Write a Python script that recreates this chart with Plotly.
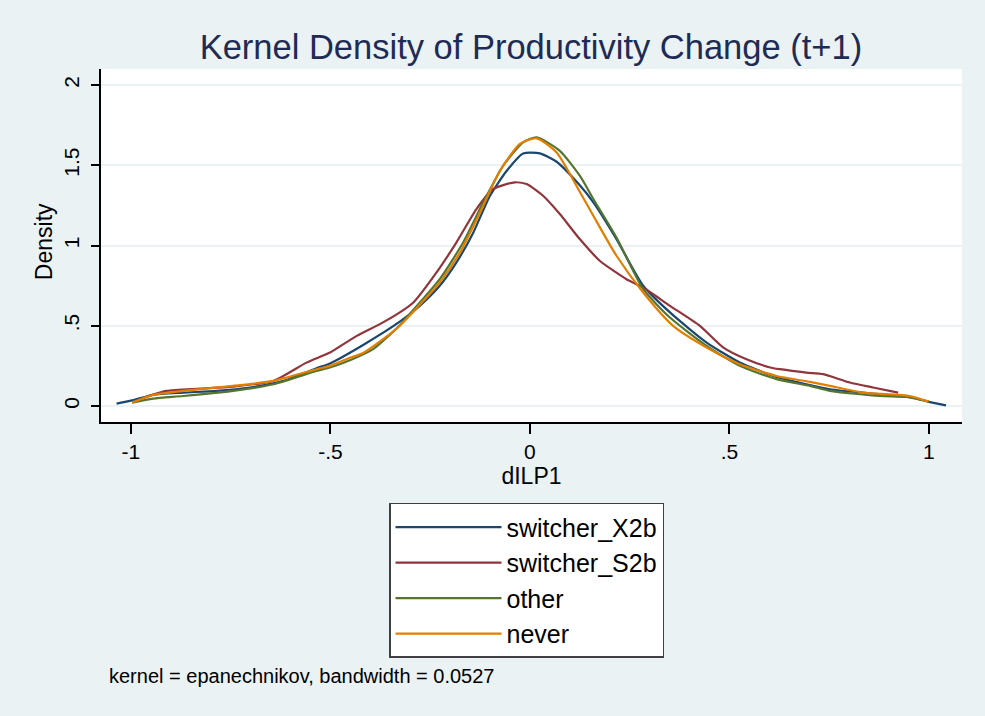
import plotly.graph_objects as go

# ---------------- data ----------------
series_names = ["switcher_X2b", "switcher_S2b", "other", "never"]

x2b_x = [-1.036, -0.994, -0.944, -0.869, -0.785, -0.702, -0.618, -0.535, -0.501, -0.418,
         -0.326, -0.276, -0.226, -0.184, -0.142, -0.100, -0.058, -0.017, 0.025, 0.067,
         0.125, 0.159, 0.217, 0.284, 0.351, 0.443, 0.526, 0.610, 0.702, 0.752,
         0.877, 0.960, 1.000, 1.043]
x2b_y = [0.015, 0.036, 0.070, 0.083, 0.094, 0.115, 0.156, 0.235, 0.265, 0.380,
         0.525, 0.624, 0.749, 0.895, 1.080, 1.310, 1.466, 1.574, 1.574, 1.522,
         1.375, 1.269, 1.040, 0.749, 0.583, 0.395, 0.271, 0.187, 0.130, 0.104,
         0.073, 0.052, 0.025, 0.004]

s2b_x = [-0.970, -0.911, -0.827, -0.744, -0.643, -0.560, -0.501, -0.434, -0.376, -0.326,
         -0.292, -0.234, -0.184, -0.134, -0.092, -0.038, -0.008, 0.033, 0.075, 0.125,
         0.175, 0.242, 0.284, 0.351, 0.426, 0.485, 0.543, 0.602, 0.627, 0.693,
         0.735, 0.802, 0.860, 0.923]
s2b_y = [0.050, 0.094, 0.108, 0.121, 0.156, 0.270, 0.333, 0.437, 0.510, 0.583,
         0.645, 0.832, 1.020, 1.227, 1.352, 1.394, 1.383, 1.310, 1.196, 1.040,
         0.905, 0.790, 0.738, 0.624, 0.499, 0.364, 0.291, 0.240, 0.229, 0.208,
         0.198, 0.146, 0.115, 0.083]

other_x = [-0.997, -0.944, -0.869, -0.744, -0.643, -0.535, -0.501, -0.451, -0.393, -0.326,
           -0.309, -0.226, -0.167, -0.117, -0.067, -0.017, 0.017, 0.075, 0.125, 0.159,
           0.217, 0.284, 0.351, 0.443, 0.526, 0.618, 0.702, 0.752, 0.877, 0.944,
           1.000]
other_y = [0.020, 0.046, 0.062, 0.094, 0.135, 0.218, 0.240, 0.285, 0.354, 0.503,
           0.551, 0.790, 1.020, 1.269, 1.497, 1.643, 1.674, 1.590, 1.435, 1.290,
           1.050, 0.728, 0.551, 0.374, 0.250, 0.167, 0.125, 0.094, 0.062, 0.056,
           0.027]

never_x = [-0.997, -0.944, -0.869, -0.744, -0.643, -0.535, -0.501, -0.451, -0.418, -0.368,
           -0.326, -0.226, -0.175, -0.125, -0.075, -0.025, 0.017, 0.067, 0.125, 0.159,
           0.217, 0.284, 0.359, 0.443, 0.526, 0.618, 0.702, 0.752, 0.835, 0.952,
           0.999]
never_y = [0.021, 0.069, 0.094, 0.125, 0.156, 0.229, 0.250, 0.300, 0.330, 0.416,
           0.500, 0.770, 0.957, 1.206, 1.466, 1.633, 1.668, 1.580, 1.335, 1.185,
           0.936, 0.707, 0.499, 0.364, 0.260, 0.187, 0.150, 0.125, 0.083, 0.062,
           0.027]

x_tickvals = [-1, -0.5, 0, 0.5, 1]
x_ticktext = ["-1", "-.5", "0", ".5", "1"]
y_tickvals = [0, 0.5, 1, 1.5, 2]
y_ticktext = ["0", ".5", "1", "1.5", "2"]

title_text = "Kernel Density of Productivity Change (t+1)"
x_title = "dILP1"
y_title = "Density"
note_text = "kernel = epanechnikov, bandwidth = 0.0527"

# ---------------- styling ----------------
colors = ["#1a476f", "#90353b", "#55752f", "#e37e00"]
BG = "#EAF2F3"
FONT = "Liberation Sans, Arial, Helvetica, sans-serif"

fig = go.Figure()
all_x = [x2b_x, s2b_x, other_x, never_x]
all_y = [x2b_y, s2b_y, other_y, never_y]
for i, (name, xs, ys) in enumerate(zip(series_names, all_x, all_y)):
    fig.add_trace(go.Scatter(
        x=xs, y=ys, mode="lines", name=name,
        line=dict(color=colors[i], width=2.2, shape="spline", smoothing=0.6),
        legendgroup=name,
    ))

fig.update_layout(
    width=985, height=716,
    paper_bgcolor=BG, plot_bgcolor="white",
    margin=dict(l=101, r=23, t=69, b=294),
    font=dict(family=FONT, size=20, color="black"),
    title=dict(text=title_text, x=0.539, xanchor="center", y=0.934, yanchor="middle",
               font=dict(family=FONT, size=34.5, color="#1e2b55")),
    showlegend=True,
    legend=dict(
        x=0.3345, y=-0.229, xanchor="left", yanchor="top",
        bgcolor="white", bordercolor="#404040", borderwidth=1.5,
        font=dict(family=FONT, size=25, color="black"),
        traceorder="grouped", tracegroupgap=0,
        itemwidth=106, entrywidth=296, entrywidthmode="pixels",
    ),
    annotations=[
        dict(text=note_text, xref="paper", yref="paper", x=0.007, y=-0.72,
             xanchor="left", yanchor="middle", showarrow=False,
             font=dict(family=FONT, size=20, color="black")),
        dict(text=y_title, xref="paper", yref="paper", x=-0.066, y=0.51,
             xanchor="center", yanchor="middle", textangle=-90, showarrow=False,
             font=dict(family=FONT, size=23, color="black")),
    ],
)

fig.update_xaxes(
    range=[-1.075, 1.083], tickvals=x_tickvals, ticktext=x_ticktext,
    showgrid=False, zeroline=False, automargin=False,
    showline=True, linecolor="black", linewidth=1.5,
    ticks="outside", ticklen=10, tickwidth=1.5, tickcolor="black",
    tickfont=dict(size=21), ticklabelstandoff=0,
    title=dict(text=x_title, standoff=3, font=dict(size=23)),
)
fig.update_yaxes(
    range=[-0.1, 2.1], tickvals=y_tickvals, ticktext=y_ticktext,
    showgrid=True, gridcolor=BG, gridwidth=2, zeroline=False, automargin=False,
    showline=True, linecolor="black", linewidth=1.5,
    ticks="outside", ticklen=8, tickwidth=1.5, tickcolor="black",
    tickangle=-90, tickfont=dict(size=21), ticklabelstandoff=4,
)

fig.write_html("out.html", config={"displayModeBar": False},
               post_script="document.body.style.margin='0';")
